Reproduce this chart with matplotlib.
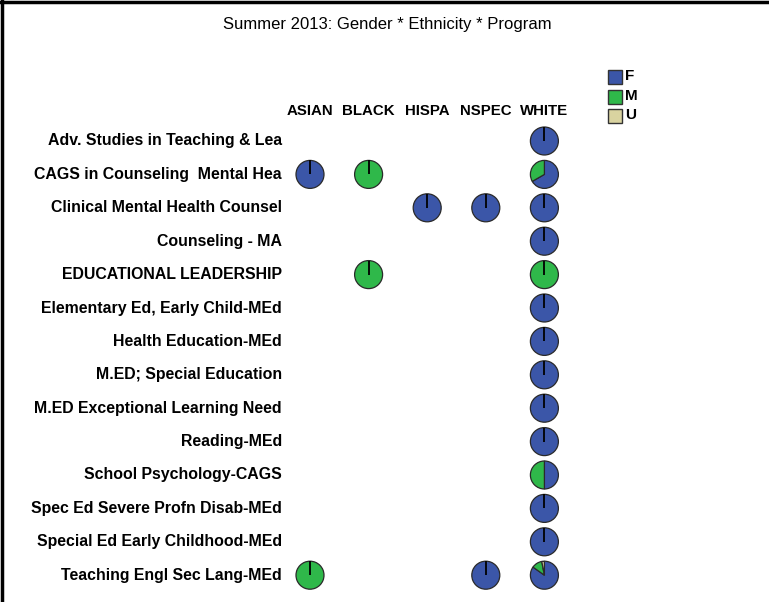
import matplotlib.pyplot as plt
from matplotlib.patches import Rectangle

plt.rcParams['font.family'] = ['Liberation Sans', 'DejaVu Sans']

title = "Summer 2013: Gender * Ethnicity * Program"
genders = ["F", "M", "U"]
gender_colors = ["#3b56a8", "#2fb84a", "#d9d3a0"]
ethnicities = ["ASIAN", "BLACK", "HISPA", "NSPEC", "WHITE"]
programs = [
    "Adv. Studies in Teaching & Lea",
    "CAGS in Counseling  Mental Hea",
    "Clinical Mental Health Counsel",
    "Counseling - MA",
    "EDUCATIONAL LEADERSHIP",
    "Elementary Ed, Early Child-MEd",
    "Health Education-MEd",
    "M.ED; Special Education",
    "M.ED Exceptional Learning Need",
    "Reading-MEd",
    "School Psychology-CAGS",
    "Spec Ed Severe Profn Disab-MEd",
    "Special Ed Early Childhood-MEd",
    "Teaching Engl Sec Lang-MEd",
]

# (program, ethnicity) -> [F, M, U] shares
cells = {
    ("Adv. Studies in Teaching & Lea", "WHITE"): [1, 0, 0],
    ("CAGS in Counseling  Mental Hea", "ASIAN"): [1, 0, 0],
    ("CAGS in Counseling  Mental Hea", "BLACK"): [0, 1, 0],
    ("CAGS in Counseling  Mental Hea", "WHITE"): [2, 1, 0],
    ("Clinical Mental Health Counsel", "HISPA"): [1, 0, 0],
    ("Clinical Mental Health Counsel", "NSPEC"): [1, 0, 0],
    ("Clinical Mental Health Counsel", "WHITE"): [1, 0, 0],
    ("Counseling - MA", "WHITE"): [1, 0, 0],
    ("EDUCATIONAL LEADERSHIP", "BLACK"): [0, 1, 0],
    ("EDUCATIONAL LEADERSHIP", "WHITE"): [0, 1, 0],
    ("Elementary Ed, Early Child-MEd", "WHITE"): [1, 0, 0],
    ("Health Education-MEd", "WHITE"): [1, 0, 0],
    ("M.ED; Special Education", "WHITE"): [1, 0, 0],
    ("M.ED Exceptional Learning Need", "WHITE"): [1, 0, 0],
    ("Reading-MEd", "WHITE"): [1, 0, 0],
    ("School Psychology-CAGS", "WHITE"): [1, 1, 0],
    ("Spec Ed Severe Profn Disab-MEd", "WHITE"): [1, 0, 0],
    ("Special Ed Early Childhood-MEd", "WHITE"): [1, 0, 0],
    ("Teaching Engl Sec Lang-MEd", "ASIAN"): [0, 1, 0],
    ("Teaching Engl Sec Lang-MEd", "NSPEC"): [1, 0, 0],
    ("Teaching Engl Sec Lang-MEd", "WHITE"): [28, 4, 1],
}

W, H = 769, 602
fig = plt.figure(figsize=(W / 100, H / 100), dpi=100)
ax = fig.add_axes([0, 0, 1, 1])

# grid layout in pixels (y measured from top)
x0, dx = 310, 58.6
y0, dy = 141, 33.4
r = 14

def py(y):
    return H - y

for i, prog in enumerate(programs):
    yc = py(y0 + i * dy)
    ax.text(282, yc, prog, ha="right", va="center", fontsize=11.4, fontweight="bold")
    for j, eth in enumerate(ethnicities):
        vals = cells.get((prog, eth))
        if vals is None:
            continue
        xc = x0 + j * dx
        keep = [(v, c) for v, c in zip(vals, gender_colors) if v > 0]
        ax.pie([v for v, c in keep], colors=[c for v, c in keep], center=(xc, yc), radius=r,
               startangle=90, counterclock=False, frame=True,
               wedgeprops=dict(edgecolor="#2a2a2a", linewidth=0.9))
        if len(keep) == 1:
            ax.plot([xc, xc], [yc, yc + r], color="black", lw=1.3, solid_capstyle="butt")

for j, eth in enumerate(ethnicities):
    ax.text(x0 + j * dx, py(111), eth, ha="center", va="center", fontsize=10.8, fontweight="bold")

# legend
for k, (g, c) in enumerate(zip(genders, gender_colors)):
    ly = 77 + k * 19.5
    ax.add_patch(Rectangle((608, py(ly) - 7), 14, 14, facecolor=c, edgecolor="#333333", lw=1))
    ax.text(625, py(ly) + 1, g, ha="left", va="center", fontsize=11, fontweight="bold")

ax.text(387, py(25), title, ha="center", va="center", fontsize=12)

# frame lines on top and left
ax.plot([0, W], [H - 1.5, H - 1.5], color="black", lw=2.5)
ax.plot([1.5, 1.5], [0, H], color="black", lw=2.5)

ax.set_xlim(0, W)
ax.set_ylim(0, H)
ax.set_aspect("auto")
ax.axis("off")

fig.savefig("out.png", dpi=100)
